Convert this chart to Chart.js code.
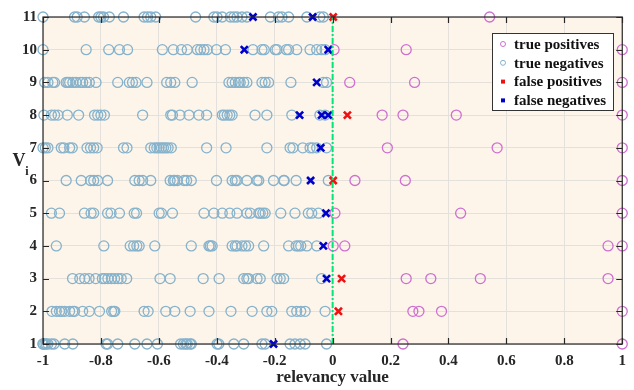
<!DOCTYPE html>
<html>
<head>
<meta charset="utf-8">
<script src="https://cdn.jsdelivr.net/npm/chart.js@4.4.1/dist/chart.umd.min.js"></script>
<style>
  html, body { margin: 0; padding: 0; background: #fff; }
  #wrap { width: 634px; height: 390px; }
</style>
</head>
<body>
<div id="wrap"><canvas id="chart" width="634" height="390"></canvas></div>
<script>
// Rows V1..V11; each class list holds one array of relevancy values per row
const rows = [1, 2, 3, 4, 5, 6, 7, 8, 9, 10, 11];

const trueNeg = [
  [-1.0, -1.0, -0.994, -0.989, -0.983, -0.971, -0.962, -0.925, -0.897, -0.782, -0.777, -0.742, -0.683, -0.641, -0.605, -0.525, -0.515, -0.507, -0.502, -0.492, -0.488, -0.399, -0.393, -0.341, -0.307, -0.244, -0.233, -0.147, -0.130, -0.112, -0.095, -0.021],
  [-0.969, -0.954, -0.943, -0.935, -0.925, -0.908, -0.897, -0.891, -0.863, -0.840, -0.805, -0.763, -0.756, -0.752, -0.651, -0.637, -0.576, -0.545, -0.492, -0.427, -0.351, -0.278, -0.227, -0.210, -0.141, -0.124, -0.110, -0.095, -0.026],
  [-0.898, -0.873, -0.856, -0.841, -0.818, -0.795, -0.787, -0.776, -0.764, -0.753, -0.741, -0.730, -0.711, -0.596, -0.561, -0.447, -0.392, -0.307, -0.296, -0.290, -0.261, -0.250, -0.192, -0.181, -0.169, -0.038],
  [-0.954, -0.790, -0.699, -0.687, -0.676, -0.668, -0.614, -0.488, -0.427, -0.422, -0.416, -0.347, -0.336, -0.330, -0.313, -0.301, -0.290, -0.238, -0.152, -0.126, -0.118, -0.110, -0.089, -0.055],
  [-0.971, -0.943, -0.857, -0.834, -0.825, -0.777, -0.765, -0.736, -0.685, -0.677, -0.599, -0.591, -0.553, -0.444, -0.410, -0.381, -0.355, -0.330, -0.296, -0.284, -0.255, -0.250, -0.241, -0.233, -0.179, -0.130, -0.084, -0.072, -0.049],
  [-0.920, -0.868, -0.836, -0.825, -0.811, -0.777, -0.683, -0.668, -0.656, -0.628, -0.561, -0.550, -0.545, -0.536, -0.513, -0.504, -0.488, -0.401, -0.347, -0.336, -0.330, -0.296, -0.261, -0.255, -0.204, -0.169, -0.167, -0.126, -0.015],
  [-1.0, -0.992, -0.983, -0.937, -0.928, -0.908, -0.899, -0.848, -0.836, -0.825, -0.813, -0.722, -0.710, -0.628, -0.616, -0.607, -0.599, -0.591, -0.584, -0.576, -0.568, -0.557, -0.435, -0.368, -0.227, -0.147, -0.137, -0.103, -0.078, -0.069, -0.055, -0.021],
  [-0.997, -0.971, -0.960, -0.948, -0.916, -0.877, -0.822, -0.811, -0.800, -0.788, -0.656, -0.559, -0.553, -0.527, -0.496, -0.462, -0.435, -0.381, -0.374, -0.364, -0.355, -0.347, -0.268, -0.227, -0.141, -0.044, -0.026],
  [-0.994, -0.983, -0.966, -0.960, -0.920, -0.914, -0.908, -0.897, -0.886, -0.871, -0.863, -0.851, -0.840, -0.817, -0.742, -0.702, -0.691, -0.679, -0.641, -0.573, -0.559, -0.545, -0.485, -0.358, -0.347, -0.336, -0.324, -0.319, -0.307, -0.296, -0.244, -0.233, -0.221, -0.144, -0.032, -0.021],
  [-1.0, -0.851, -0.773, -0.736, -0.708, -0.588, -0.550, -0.522, -0.502, -0.467, -0.456, -0.444, -0.433, -0.401, -0.370, -0.275, -0.244, -0.236, -0.198, -0.192, -0.160, -0.152, -0.124, -0.078, -0.055, -0.038, -0.026],
  [-1.0, -0.891, -0.882, -0.857, -0.808, -0.800, -0.791, -0.771, -0.722, -0.651, -0.639, -0.628, -0.611, -0.473, -0.410, -0.399, -0.381, -0.353, -0.341, -0.330, -0.313, -0.296, -0.215, -0.187, -0.175, -0.152, -0.089, -0.044, -0.032]
];

const truePos = [
  [0.243, 1],
  [0.277, 0.298, 0.376, 1],
  [0.254, 0.339, 0.510, 0.951],
  [0.002, 0.042, 0.951, 1],
  [0.008, 0.442, 1],
  [0.077, 0.251, 1],
  [0.189, 0.568, 1],
  [0.171, 0.243, 0.427, 1],
  [0.059, 0.283, 1],
  [0.005, 0.254, 1],
  [0.542]
];

const falsePos = [[], [0.020], [0.031], [], [], [0.002], [], [0.051], [], [], [0.002]];

const falseNeg = [
  [-0.204], [], [-0.021], [-0.032], [-0.023], [-0.076], [-0.041],
  [-0.114, -0.038, -0.015], [-0.055], [-0.305, -0.015], [-0.275, -0.069]
];

const xTicks = [-1, -0.8, -0.6, -0.4, -0.2, 0, 0.2, 0.4, 0.6, 0.8, 1];
const threshold = 0;

const toPoints = list => rows.flatMap((r, i) => list[i].map(v => ({ x: v, y: r })));

const serif = '"Liberation Serif", "Times New Roman", serif';
const tpColor = '#cf6fd0';
const tnColor = '#86b2cc';
const fpColor = '#ee1111';
const fnColor = '#0000cc';

// Background, box with inward ticks, legend and axis titles
const decor = {
  id: 'decor',
  beforeDraw(chart) {
    const { ctx, chartArea: a } = chart;
    ctx.save();
    ctx.fillStyle = '#fdf5ea';
    ctx.fillRect(a.left, a.top, a.right - a.left, a.bottom - a.top);
    ctx.restore();
  },
  afterDraw(chart) {
    const { ctx, chartArea: a, scales } = chart;
    ctx.save();
    ctx.strokeStyle = '#262626';
    ctx.lineWidth = 1.2;
    ctx.strokeRect(a.left, a.top, a.right - a.left, a.bottom - a.top);
    ctx.beginPath();
    xTicks.forEach(t => {
      const px = Math.round(scales.x.getPixelForValue(t)) + 0.5;
      ctx.moveTo(px, a.bottom); ctx.lineTo(px, a.bottom - 6);
      ctx.moveTo(px, a.top); ctx.lineTo(px, a.top + 6);
    });
    rows.forEach(r => {
      const py = Math.round(scales.y.getPixelForValue(r)) + 0.5;
      ctx.moveTo(a.left, py); ctx.lineTo(a.left + 6, py);
      ctx.moveTo(a.right, py); ctx.lineTo(a.right - 6, py);
    });
    ctx.stroke();

    // axis titles
    ctx.fillStyle = '#262626';
    ctx.textAlign = 'center';
    ctx.textBaseline = 'middle';
    ctx.font = 'bold 17px ' + serif;
    ctx.fillText('relevancy value', (a.left + a.right) / 2, 378);
    ctx.font = 'bold 18px ' + serif;
    ctx.fillText('V', 19, 161);
    ctx.font = 'bold 12px ' + serif;
    ctx.fillText('i', 27, 172);

    // legend
    const lx = 492, ly = 33, lw = 121, lh = 77;
    ctx.fillStyle = '#ffffff';
    ctx.fillRect(lx, ly, lw, lh);
    ctx.strokeStyle = '#333333';
    ctx.lineWidth = 1;
    ctx.strokeRect(lx + 0.5, ly + 0.5, lw, lh);
    const items = chart.data.datasets.filter(d => d.legendKind);
    items.forEach((d, i) => {
      const cy = ly + 11 + i * 18.8;
      const mx = lx + 11;
      if (d.legendKind === 'ring') {
        ctx.strokeStyle = d.borderColor;
        ctx.lineWidth = 1;
        ctx.beginPath();
        ctx.arc(mx, cy, 2.5, 0, Math.PI * 2);
        ctx.stroke();
      } else {
        ctx.fillStyle = d.borderColor;
        ctx.fillRect(mx - 2, cy - 2, 4, 4);
      }
      ctx.fillStyle = '#111111';
      ctx.textAlign = 'left';
      ctx.font = 'bold 15px ' + serif;
      ctx.fillText(d.label, lx + 22, cy + 1);
    });
    ctx.restore();
  }
};

new Chart(document.getElementById('chart'), {
  type: 'scatter',
  data: {
    datasets: [
      {
        type: 'line', label: 'threshold',
        data: [{ x: threshold, y: 1 }, { x: threshold, y: 11 }],
        borderColor: '#00e676', borderWidth: 2, borderDash: [6, 2, 2, 2],
        pointRadius: 0, order: 0
      },
      {
        label: 'true positives', legendKind: 'ring', data: toPoints(truePos),
        pointStyle: 'circle', pointRadius: 5, borderWidth: 1.3,
        borderColor: tpColor, backgroundColor: 'rgba(0,0,0,0)', order: 2
      },
      {
        label: 'true negatives', legendKind: 'ring', data: toPoints(trueNeg),
        pointStyle: 'circle', pointRadius: 5, borderWidth: 1.3,
        borderColor: tnColor, backgroundColor: 'rgba(0,0,0,0)', order: 3
      },
      {
        label: 'false positives', legendKind: 'dot', data: toPoints(falsePos),
        pointStyle: 'crossRot', pointRadius: 5, borderWidth: 2.6,
        borderColor: fpColor, backgroundColor: fpColor, order: 1
      },
      {
        label: 'false negatives', legendKind: 'dot', data: toPoints(falseNeg),
        pointStyle: 'crossRot', pointRadius: 5, borderWidth: 2.6,
        borderColor: fnColor, backgroundColor: fnColor, order: 1
      }
    ]
  },
  options: {
    responsive: false,
    animation: false,
    devicePixelRatio: 1,
    clip: false,
    layout: { padding: { top: 17, right: 9, left: 0, bottom: 0 } },
    plugins: { legend: { display: false }, tooltip: { enabled: false } },
    scales: {
      x: {
        type: 'linear', min: -1, max: 1,
        afterBuildTicks: s => { s.ticks = xTicks.map(v => ({ value: v })); },
        afterFit: s => { s.height = 46; },
        ticks: {
          padding: 8, maxRotation: 0, autoSkip: false, color: '#262626',
          font: { family: serif, size: 15, weight: 'bold' },
          callback: v => String(Number(v.toFixed(1)))
        },
        grid: { color: '#e4e1dc', lineWidth: 1, drawTicks: false },
        border: { display: false }
      },
      y: {
        type: 'linear', min: 1, max: 11,
        afterBuildTicks: s => { s.ticks = rows.map(v => ({ value: v })); },
        afterFit: s => { s.width = 43; },
        ticks: {
          padding: 6, color: '#262626',
          font: { family: serif, size: 15, weight: 'bold' }
        },
        grid: { color: '#e4e1dc', lineWidth: 1, drawTicks: false },
        border: { display: false }
      }
    }
  },
  plugins: [decor]
});
</script>
</body>
</html>
